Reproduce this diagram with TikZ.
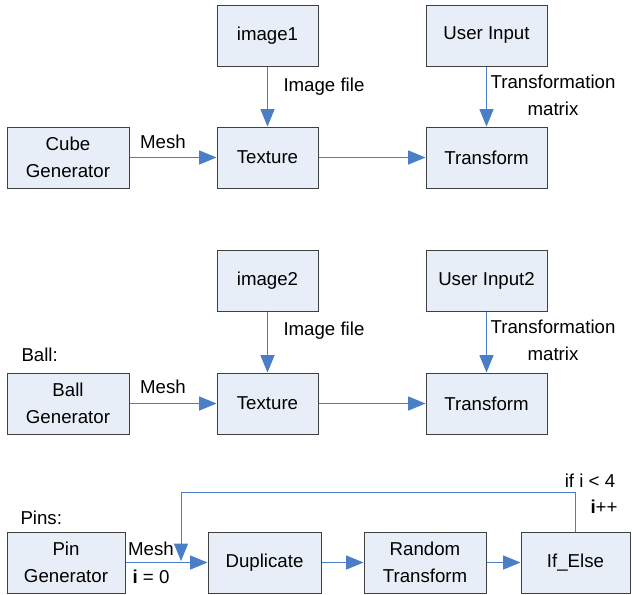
\documentclass[tikz,border=0pt]{standalone}
\usepackage{fontspec}
\setmainfont{Liberation Sans}
\usetikzlibrary{arrows.meta}

\definecolor{boxfill}{RGB}{232,238,247}
\definecolor{boxline}{RGB}{64,64,64}
\definecolor{flowblue}{RGB}{74,126,198}

\tikzset{every picture/.style={line width=0.75pt}}
\tikzset{
  block/.style={draw=boxline, fill=boxfill, minimum height=45.75pt, inner sep=0pt, align=center, font=\fontsize{14pt}{20pt}\selectfont},
  flow/.style={draw=flowblue, line width=0.75pt, -{Triangle[length=13pt,width=10.5pt]}},
  tag/.style={font=\fontsize{14pt}{20pt}\selectfont, align=center, inner sep=0pt}
}

\begin{document}
\begin{tikzpicture}[x=0.75pt,y=0.75pt,yscale=-1,xscale=1]
	\useasboundingbox (0,0) rectangle (632,594);

	% Cube row
	\node [block, minimum width=75.75pt] (img1) at (267.5,35.5) {image1};
	\node [block, minimum width=90.75pt] (usr1) at (486.5,35.5) {User Input};
	\node [block, minimum width=91.5pt] (cube) at (68,157.5) {Cube\\Generator};
	\node [block, minimum width=75.75pt] (tex1) at (267.5,157.5) {Texture};
	\node [block, minimum width=90.75pt] (trf1) at (486.5,157.5) {Transform};

	\draw [flow] (img1) -- (tex1);
	\draw [flow] (usr1) -- (trf1);
	\draw [flow] (cube) -- (tex1);
	\draw [flow] (tex1) -- (trf1);

	\node [tag, anchor=west] (imgf1) at (283,87) {Image file};
	\node [tag] (mat1) at (553,95) {Transformation\\matrix};
	\node [tag] (mesh1) at (163,142) {Mesh};

	% Ball row
	\node [tag, anchor=west] (ball) at (21,355) {Ball:};
	\node [block, minimum width=75.75pt] (img2) at (267.5,280.5) {image2};
	\node [block, minimum width=90.75pt] (usr2) at (486.5,280.5) {User Input2};
	\node [block, minimum width=91.5pt] (ballgen) at (68,403.5) {Ball\\Generator};
	\node [block, minimum width=75.75pt] (tex2) at (267.5,403.5) {Texture};
	\node [block, minimum width=90.75pt] (trf2) at (486.5,403.5) {Transform};

	\draw [flow] (img2) -- (tex2);
	\draw [flow] (usr2) -- (trf2);
	\draw [flow] (ballgen) -- (tex2);
	\draw [flow] (tex2) -- (trf2);

	\node [tag, anchor=west] (imgf2) at (283,331) {Image file};
	\node [tag] (mat2) at (553,340) {Transformation\\matrix};
	\node [tag] (mesh2) at (163,387) {Mesh};

	% Pins row
	\node [tag, anchor=west] (pins) at (20,518) {Pins:};
	\node [block, minimum width=88.5pt] (pin) at (66,562.5) {Pin\\Generator};
	\node [block, minimum width=84.75pt] (dup) at (264.5,562.5) {Duplicate};
	\node [block, minimum width=91.5pt] (rnd) at (425,562.5) {Random\\Transform};
	\node [block, minimum width=81.75pt] (ife) at (575.5,562.5) {If\_Else};
	\coordinate (loopend) at (181,561);

	\draw [flow] (pin) -- (dup);
	\draw [flow] (dup) -- (rnd);
	\draw [flow] (rnd) -- (ife);
	\draw [flow] (ife.north) -- ++(0,-39) -| (loopend);

	\node [tag] (mesh3) at (151,549) {Mesh};
	\node [tag] (init) at (151,577) {\textbf{i} = 0};
	\node [tag] (cond) at (590,481) {if i < 4};
	\node [tag] (incr) at (604,507) {\textbf{i}++};

\end{tikzpicture}
\end{document}
